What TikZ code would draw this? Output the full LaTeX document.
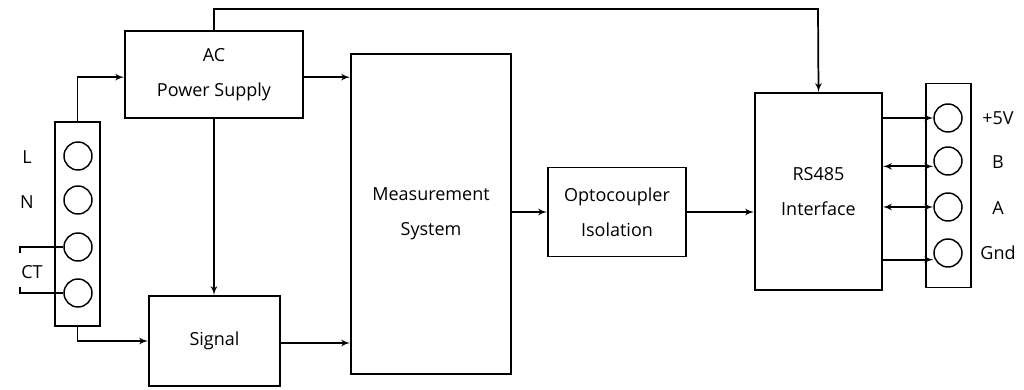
\documentclass[tikz,border=0pt]{standalone}
\usepackage{fontspec}
\setmainfont{Open Sans}
\usetikzlibrary{shapes,arrows}
\tikzstyle{block} = [rectangle, draw, line width=1.4pt, inner sep=0pt, align=center,
font=\fontsize{13.5}{26}\selectfont]
\tikzstyle{strip} = [rectangle, draw, line width=1.4pt, inner sep=0pt, minimum width=33.75pt, minimum height=153pt]
\tikzstyle{pin} = [circle, draw, line width=1.1pt, inner sep=0pt, minimum size=21pt]
\tikzstyle{lbl} = [font=\fontsize{13.5}{16}\selectfont]
\tikzstyle{line} = [draw, line width=1.3pt, -latex']
\tikzstyle{wire} = [draw, line width=1.3pt]

\begin{document}
\begin{tikzpicture}[x=0.75pt, y=-0.75pt]
	\useasboundingbox (0,0) rectangle (1024,389);
	% Place nodes
	\node [block, minimum width=133.5pt, minimum height=65.25pt] (ac) at (214,74.5) {AC\\Power Supply};
	\node [block, minimum width=120pt, minimum height=240pt] (meas) at (431,214) {Measurement\\System};
	\node [block, minimum width=98.25pt, minimum height=67.5pt] (sig) at (214.5,341) {Signal};
	\node [block, minimum width=103.5pt, minimum height=66.75pt] (opto) at (617,212) {Optocoupler\\Isolation};
	\node [block, minimum width=95.25pt, minimum height=147.75pt] (rs) at (818.5,191.5) {RS485\\Interface};
	% terminal strips
	\node [strip] (tl) at (77.5,224) {};
	\node [pin] (l1) at (78,156) {};
	\node [pin] (l2) at (78,200) {};
	\node [pin] (l3) at (78,247) {};
	\node [pin] (l4) at (78,293) {};
	\node [strip] (tr) at (948.5,185.5) {};
	\node [pin] (r1) at (948,118) {};
	\node [pin] (r2) at (948,161) {};
	\node [pin] (r3) at (948,207) {};
	\node [pin] (r4) at (948,253) {};
	% labels
	\node [lbl] (lL) at (27,157) {L};
	\node [lbl] (lN) at (27,202) {N};
	\node [lbl] (lCT) at (32,272) {CT};
	\node [lbl] (l5v) at (998,118) {+5V};
	\node [lbl] (lB) at (998,162) {B};
	\node [lbl] (lA) at (998,208) {A};
	\node [lbl] (lGnd) at (998,253) {Gnd};
	\coordinate (top) at (818,9);
	\coordinate (ct1) at (20,253);
	\coordinate (ct2) at (20,287);
	% Draw edges
	\path [line] (tl.north) |- ([yshift=-2pt]ac.west);
	\path [line] ([yshift=-2pt]ac.east) -- ([yshift=-2pt]ac.east -| meas.west);
	\path [line] (ac.north) |- (top) -- (rs.north);
	\path [line] (ac.south) -- (ac.south |- sig.north);
	\path [line] (tl.south) |- (sig.west);
	\path [line] ([yshift=-1.5pt]sig.east) -- ([yshift=-1.5pt]sig.east -| meas.west);
	\path [line] (meas.east |- opto) -- (opto);
	\path [line] (opto) -- (opto -| rs.west);
	\path [line] (r1 -| rs.east) -- (r1.west);
	\path [line, latex'-latex'] ([yshift=-4pt]r2 -| rs.east) -- ([yshift=-4pt]r2.west);
	\path [line, latex'-latex'] (r3 -| rs.east) -- (r3.west);
	\path [line] ([yshift=-5pt]r4 -| rs.east) -- ([yshift=-5pt]r4.west);
	\path [wire] (l3.west) -| (ct1);
	\path [wire] (l4.west) -| (ct2);
\end{tikzpicture}
\end{document}
